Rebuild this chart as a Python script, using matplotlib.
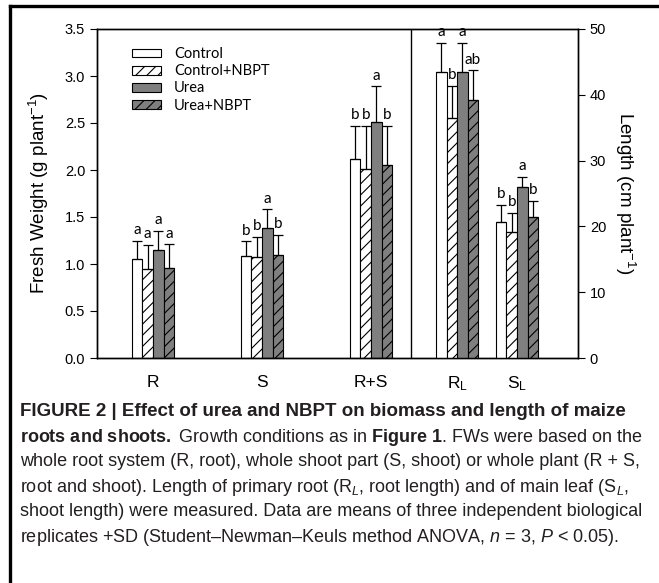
import matplotlib
matplotlib.use("Agg")
import matplotlib.pyplot as plt
import numpy as np
from matplotlib.lines import Line2D

plt.rcParams['font.family'] = ['Liberation Sans', 'DejaVu Sans']
plt.rcParams['mathtext.fontset'] = 'custom'
plt.rcParams['mathtext.rm'] = 'Liberation Sans'
plt.rcParams['mathtext.it'] = 'Liberation Sans:italic'
plt.rcParams['mathtext.bf'] = 'Liberation Sans:bold'
plt.rcParams['hatch.linewidth'] = 0.8

# treatments
treatments = ['Control', 'Control+NBPT', 'Urea', 'Urea+NBPT']

# fresh weight (g plant-1), left axis
fw_groups = ['R', 'S', 'R+S']
fw_mean = [[1.05, 0.95, 1.15, 0.96],
           [1.09, 1.07, 1.38, 1.10],
           [2.12, 2.01, 2.51, 2.05]]
fw_sd = [[0.20, 0.25, 0.20, 0.25],
         [0.15, 0.22, 0.20, 0.21],
         [0.35, 0.46, 0.38, 0.42]]
fw_letters = [['a', 'a', 'a', 'a'],
              ['b', 'b', 'a', 'b'],
              ['b', 'b', 'a', 'b']]

# length (cm plant-1), right axis
len_groups = ['R$_\\mathregular{L}$', 'S$_\\mathregular{L}$']
len_mean = [[43.4, 36.4, 43.4, 39.2],
            [20.7, 19.2, 26.0, 21.5]]
len_sd = [[4.5, 4.9, 4.5, 4.5],
          [2.5, 2.9, 1.5, 2.3]]
len_letters = [['a', 'b', 'a', 'ab'],
               ['b', 'b', 'a', 'b']]

caption = [
    "FIGURE 2 | Effect of urea and NBPT on biomass and length of maize",
    "$\\mathbf{roots\\ and\\ shoots.}$ Growth conditions as in $\\mathbf{Figure\\ 1}$. FWs were based on the",
    "whole root system (R, root), whole shoot part (S, shoot) or whole plant (R + S,",
    "root and shoot). Length of primary root (R$_L$, root length) and of main leaf (S$_L$,",
    "shoot length) were measured. Data are means of three independent biological",
    "replicates +SD (Student\u2013Newman\u2013Keuls method ANOVA, $n$ = 3, $P$ < 0.05).",
]

# styles
faces = ['white', 'white', '#7f7f7f', '#7f7f7f']
hatches = [None, '///', None, '///']
bw = 0.097
fw_pos = [0, 1, 2]
len_pos = [2.79, 3.34]
sep = 2.367
small_font = ['Lato', 'DejaVu Sans']

fig = plt.figure(figsize=(6.59, 5.83), dpi=100)
ax = fig.add_axes([97 / 659, 1 - 358 / 583, 481 / 659, 329 / 583])
ax2 = ax.twinx()


def draw(axis, pos, means, sds, letters, off):
    for i in range(4):
        xs = [p + (i - 1.5) * bw for p in pos]
        m = [g[i] for g in means]
        s = [g[i] for g in sds]
        axis.bar(xs, m, width=bw, color=faces[i], edgecolor='black',
                 linewidth=0.8, hatch=hatches[i], label=treatments[i], zorder=2)
        axis.errorbar(xs, m, yerr=[np.zeros(len(s)), s], fmt='none',
                      ecolor='black', elinewidth=0.9, capsize=3.6,
                      capthick=0.9, zorder=3)
        for x, mm, ss, g in zip(xs, m, s, letters):
            axis.text(x, mm + ss + off, g[i], ha='center', va='bottom',
                      fontsize=11, family=small_font)


draw(ax, fw_pos, fw_mean, fw_sd, fw_letters, 0.04)
draw(ax2, len_pos, len_mean, len_sd, len_letters, 0.6)

ax.set_xlim(-0.514, 3.899)
ax.set_ylim(0, 3.5)
ax2.set_ylim(0, 50)
ax.set_yticks(np.arange(0, 3.6, 0.5))
ax.set_yticklabels([f'{v:.1f}' for v in np.arange(0, 3.6, 0.5)])
ax2.set_yticks(range(0, 51, 10))
ax.set_xticks(fw_pos + len_pos)
ax.set_xticklabels(fw_groups + len_groups, fontsize=12.5)
ax.tick_params(axis='x', length=0, pad=12)
ax.tick_params(axis='y', labelsize=10.5, direction='out', length=5)
ax2.tick_params(axis='y', labelsize=10.5, direction='out', length=5)
ax.axvline(sep, color='black', lw=1, zorder=1)

for a in (ax, ax2):
    for sp in a.spines.values():
        sp.set_linewidth(1)

ax.set_ylabel('Fresh Weight (g plant$^{-1}$)', fontsize=13.5, labelpad=10)
ax2.set_ylabel('Length (cm plant$^{-1}$)', fontsize=13.5, rotation=270,
               labelpad=22)

ax.legend(loc='upper left', bbox_to_anchor=(0.045, 0.985), frameon=False,
          prop={'family': small_font, 'size': 10.5}, handlelength=2.0,
          handleheight=0.55, labelspacing=0.22, handletextpad=0.9)

# caption
y0 = 1 - 412 / 583
for k, line in enumerate(caption):
    fig.text(20 / 659, y0 - k * 25 / 583, line,
             fontsize=13.5 if k == 0 else 13, va='center',
             ha='left', color='#231f20',
             fontweight='bold' if k == 0 else 'normal')

# frame border
fig.add_artist(Line2D([9.5 / 659, 9.5 / 659], [0, 1 - 6 / 583],
                      color='black', lw=2.4))
fig.add_artist(Line2D([9.5 / 659, 1], [1 - 6 / 583, 1 - 6 / 583],
                      color='black', lw=2.4))

fig.savefig('out.png', dpi=100)
